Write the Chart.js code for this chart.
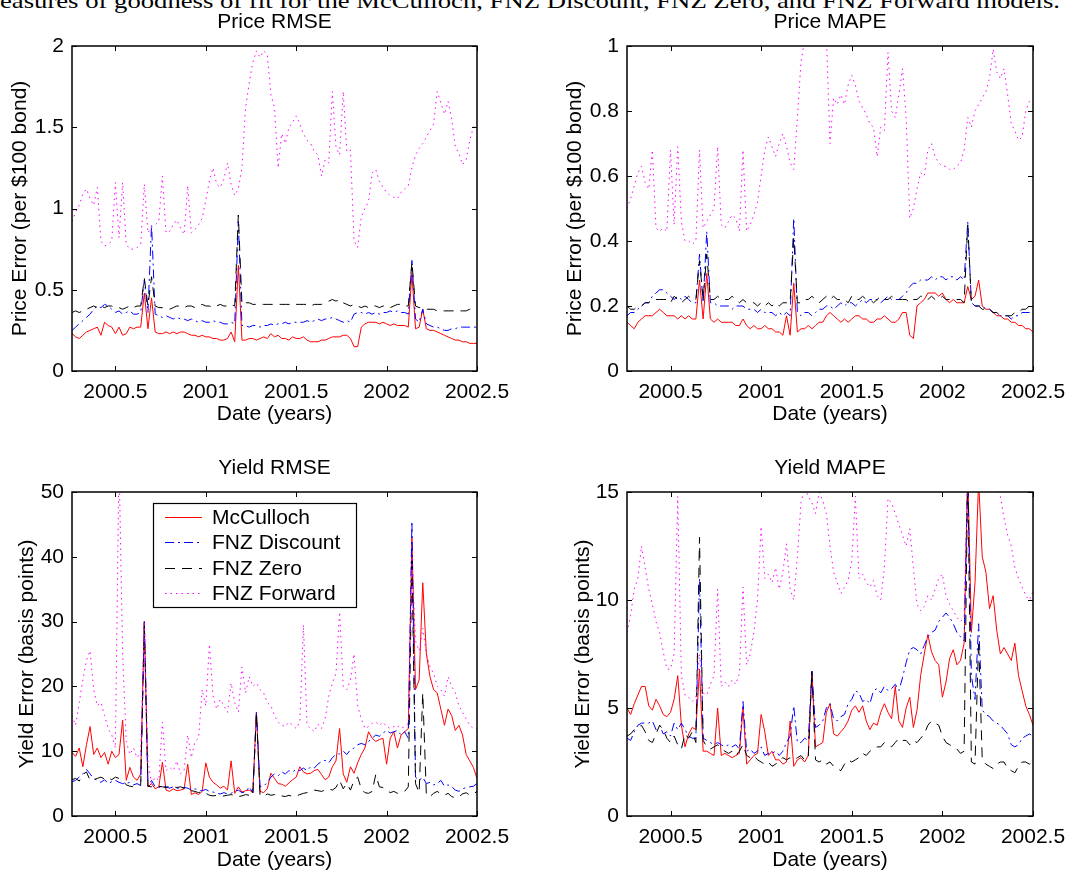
<!DOCTYPE html>
<html>
<head>
<meta charset="utf-8">
<script src="https://cdn.jsdelivr.net/npm/chart.js@4.4.1/dist/chart.umd.min.js"></script>
<style>
  html, body { margin: 0; padding: 0; background: #fff; overflow: hidden; }
  body { width: 1066px; height: 873px; position: relative; }
  .caption { position: absolute; left: 0; top: -10px; font: 22px 'Liberation Serif', serif; line-height: 22px; white-space: nowrap; transform-origin: 0 0; color: #000; }
  .panel { position: absolute; }
</style>
</head>
<body>
<div class="caption" id="caption">easures of goodness of fit for the McCulloch, FNZ Discount, FNZ Zero, and FNZ Forward models.</div>
<div class="panel" style="left:0;top:0"><canvas id="priceRmse" width="533" height="436"></canvas></div>
<div class="panel" style="left:533px;top:0"><canvas id="priceMape" width="560" height="436"></canvas></div>
<div class="panel" style="left:0;top:436px"><canvas id="yieldRmse" width="533" height="437"></canvas></div>
<div class="panel" style="left:533px;top:436px"><canvas id="yieldMape" width="560" height="437"></canvas></div>
<script>
// dates (years), roughly weekly
const dates = [
  2000.26, 2000.28, 2000.30, 2000.32, 2000.34, 2000.36, 2000.38, 2000.40, 2000.42, 2000.44,
  2000.46, 2000.48, 2000.50, 2000.52, 2000.54, 2000.56, 2000.58, 2000.60, 2000.62, 2000.64,
  2000.66, 2000.68, 2000.70, 2000.72, 2000.74, 2000.76, 2000.78, 2000.80, 2000.82, 2000.84,
  2000.86, 2000.88, 2000.90, 2000.92, 2000.94, 2000.96, 2000.98, 2001.00, 2001.02, 2001.04,
  2001.06, 2001.08, 2001.10, 2001.12, 2001.14, 2001.16, 2001.18, 2001.20, 2001.22, 2001.24,
  2001.26, 2001.28, 2001.30, 2001.32, 2001.34, 2001.36, 2001.38, 2001.40, 2001.42, 2001.44,
  2001.46, 2001.48, 2001.50, 2001.52, 2001.54, 2001.56, 2001.58, 2001.60, 2001.62, 2001.64,
  2001.66, 2001.68, 2001.70, 2001.72, 2001.74, 2001.76, 2001.78, 2001.80, 2001.82, 2001.84,
  2001.86, 2001.88, 2001.90, 2001.92, 2001.94, 2001.96, 2001.98, 2002.00, 2002.02, 2002.04,
  2002.06, 2002.08, 2002.10, 2002.12, 2002.14, 2002.16, 2002.18, 2002.20, 2002.22, 2002.24,
  2002.26, 2002.28, 2002.30, 2002.32, 2002.34, 2002.36, 2002.38, 2002.40, 2002.42, 2002.44,
  2002.46, 2002.48, 2002.50
];
const xTicks = [2000.5, 2001, 2001.5, 2002, 2002.5];

// Price RMSE ($ per $100 bond)
const priceRmseMcCulloch = [
  0.23, 0.21, 0.20, 0.22, 0.24, 0.25, 0.26, 0.27, 0.22, 0.30,
  0.28, 0.27, 0.23, 0.27, 0.22, 0.23, 0.27, 0.26, 0.27, 0.27,
  0.48, 0.26, 0.45, 0.24, 0.23, 0.23, 0.24, 0.23, 0.24, 0.23,
  0.24, 0.24, 0.23, 0.22, 0.22, 0.21, 0.22, 0.21, 0.21, 0.20,
  0.20, 0.19, 0.19, 0.20, 0.24, 0.18, 0.65, 0.19, 0.19, 0.20,
  0.20, 0.19, 0.20, 0.21, 0.20, 0.23, 0.21, 0.22, 0.20, 0.20,
  0.19, 0.21, 0.20, 0.20, 0.21, 0.19, 0.18, 0.18, 0.18, 0.19,
  0.19, 0.20, 0.21, 0.21, 0.21, 0.22, 0.22, 0.20, 0.15, 0.15,
  0.27, 0.29, 0.30, 0.30, 0.30, 0.29, 0.30, 0.29, 0.28, 0.29,
  0.28, 0.28, 0.28, 0.27, 0.60, 0.26, 0.27, 0.38, 0.26, 0.25,
  0.25, 0.24, 0.23, 0.22, 0.21, 0.20, 0.19, 0.19, 0.18, 0.18,
  0.17, 0.17, 0.17
];
const priceRmseDiscount = [
  0.25, 0.27, 0.29, 0.31, 0.33, 0.35, 0.38, 0.40, 0.39, 0.41,
  0.40, 0.38, 0.36, 0.37, 0.35, 0.36, 0.37, 0.35, 0.35, 0.36,
  0.56, 0.36, 0.90, 0.35, 0.34, 0.33, 0.34, 0.33, 0.32, 0.33,
  0.32, 0.32, 0.31, 0.32, 0.31, 0.30, 0.31, 0.30, 0.30, 0.31,
  0.30, 0.30, 0.29, 0.29, 0.30, 0.29, 0.92, 0.28, 0.28, 0.27,
  0.28, 0.28, 0.27, 0.28, 0.28, 0.29, 0.28, 0.29, 0.29, 0.30,
  0.29, 0.30, 0.30, 0.30, 0.30, 0.31, 0.30, 0.31, 0.32, 0.31,
  0.32, 0.32, 0.33, 0.32, 0.31, 0.30, 0.31, 0.30, 0.35, 0.36,
  0.36, 0.35, 0.36, 0.35, 0.36, 0.35, 0.36, 0.36, 0.37, 0.36,
  0.37, 0.36, 0.36, 0.35, 0.68, 0.32, 0.30, 0.38, 0.29, 0.28,
  0.27, 0.27, 0.26, 0.25, 0.25, 0.26, 0.26, 0.27, 0.27, 0.27,
  0.27, 0.27, 0.27
];
const priceRmseZero = [
  0.36, 0.37, 0.36, 0.37, 0.38, 0.39, 0.40, 0.39, 0.40, 0.39,
  0.40, 0.40, 0.39, 0.39, 0.38, 0.39, 0.40, 0.39, 0.40, 0.40,
  0.57, 0.40, 0.58, 0.40, 0.39, 0.39, 0.38, 0.38, 0.39, 0.40,
  0.40, 0.39, 0.40, 0.40, 0.39, 0.40, 0.41, 0.40, 0.40, 0.39,
  0.40, 0.41, 0.40, 0.40, 0.41, 0.40, 0.96, 0.41, 0.42, 0.42,
  0.41, 0.41, 0.41, 0.41, 0.41, 0.41, 0.41, 0.41, 0.41, 0.41,
  0.41, 0.40, 0.41, 0.41, 0.41, 0.41, 0.40, 0.41, 0.41, 0.41,
  0.42, 0.43, 0.44, 0.43, 0.44, 0.42, 0.41, 0.40, 0.41, 0.40,
  0.39, 0.40, 0.39, 0.40, 0.40, 0.39, 0.40, 0.40, 0.39, 0.40,
  0.41, 0.41, 0.40, 0.40, 0.67, 0.40, 0.39, 0.39, 0.38, 0.38,
  0.38, 0.37, 0.37, 0.37, 0.37, 0.37, 0.37, 0.37, 0.37, 0.37,
  0.38, 0.38, 0.39
];
const priceRmseForward = [
  0.92, 0.98, 1.02, 1.09, 1.12, 1.06, 1.02, 1.13, 0.80, 0.77,
  0.78, 0.80, 1.16, 0.82, 1.16, 0.78, 0.75, 0.75, 0.76, 0.78,
  1.15, 0.85, 0.89, 0.90, 0.92, 1.20, 0.85, 0.86, 0.90, 0.93,
  0.88, 0.84, 1.14, 0.85, 0.87, 0.90, 0.94, 1.05, 1.17, 1.25,
  1.15, 1.13, 1.18, 1.28, 1.15, 1.08, 1.12, 1.25, 1.62, 1.77,
  1.90, 1.97, 1.93, 1.97, 1.95, 1.70, 1.62, 1.25, 1.46, 1.40,
  1.50, 1.53, 1.57, 1.52, 1.46, 1.42, 1.40, 1.35, 1.33, 1.20,
  1.30, 1.28, 1.72, 1.38, 1.33, 1.72, 1.35, 1.36, 0.80, 0.76,
  0.95, 1.00, 1.04, 1.22, 1.24, 1.17, 1.13, 1.10, 1.08, 1.07,
  1.06, 1.10, 1.12, 1.14, 1.25, 1.33, 1.37, 1.40, 1.44, 1.48,
  1.52, 1.72, 1.65, 1.58, 1.66, 1.55, 1.38, 1.34, 1.27, 1.30,
  1.42, 1.50, 1.53
];

// Price MAPE
const priceMapeMcCulloch = [
  0.15, 0.14, 0.13, 0.15, 0.16, 0.17, 0.17, 0.17, 0.18, 0.19,
  0.18, 0.17, 0.17, 0.17, 0.16, 0.17, 0.16, 0.17, 0.16, 0.16,
  0.28, 0.16, 0.30, 0.16, 0.15, 0.16, 0.15, 0.15, 0.15, 0.15,
  0.14, 0.14, 0.16, 0.14, 0.13, 0.14, 0.13, 0.13, 0.14, 0.13,
  0.13, 0.12, 0.12, 0.11, 0.17, 0.11, 0.27, 0.12, 0.13, 0.13,
  0.14, 0.13, 0.14, 0.15, 0.15, 0.17, 0.18, 0.17, 0.16, 0.15,
  0.16, 0.15, 0.16, 0.17, 0.17, 0.16, 0.16, 0.15, 0.15, 0.16,
  0.16, 0.17, 0.16, 0.15, 0.15, 0.16, 0.18, 0.18, 0.11, 0.10,
  0.20, 0.21, 0.22, 0.24, 0.24, 0.24, 0.23, 0.24, 0.22, 0.21,
  0.22, 0.21, 0.21, 0.21, 0.26, 0.22, 0.23, 0.28, 0.20, 0.19,
  0.19, 0.18, 0.17, 0.17, 0.16, 0.16, 0.15, 0.15, 0.14, 0.14,
  0.13, 0.13, 0.12
];
const priceMapeDiscount = [
  0.17, 0.18, 0.18, 0.19, 0.20, 0.21, 0.21, 0.23, 0.24, 0.25,
  0.25, 0.24, 0.23, 0.22, 0.23, 0.22, 0.23, 0.22, 0.21, 0.21,
  0.36, 0.21, 0.43, 0.21, 0.21, 0.20, 0.20, 0.20, 0.20, 0.19,
  0.20, 0.20, 0.20, 0.19, 0.19, 0.19, 0.18, 0.19, 0.18, 0.18,
  0.18, 0.17, 0.18, 0.17, 0.18, 0.17, 0.47, 0.18, 0.17, 0.18,
  0.18, 0.17, 0.18, 0.19, 0.19, 0.20, 0.20, 0.19, 0.20, 0.21,
  0.20, 0.21, 0.21, 0.20, 0.21, 0.22, 0.21, 0.22, 0.22, 0.22,
  0.21, 0.22, 0.23, 0.22, 0.22, 0.22, 0.23, 0.24, 0.26, 0.27,
  0.27, 0.28, 0.28, 0.28, 0.29, 0.28, 0.29, 0.29, 0.28, 0.29,
  0.29, 0.28, 0.29, 0.28, 0.46, 0.21, 0.20, 0.20, 0.20, 0.19,
  0.19, 0.18, 0.18, 0.17, 0.17, 0.17, 0.16, 0.17, 0.17, 0.18,
  0.18, 0.18, 0.18
];
const priceMapeZero = [
  0.20, 0.19, 0.19, 0.20, 0.20, 0.21, 0.21, 0.22, 0.22, 0.22,
  0.22, 0.22, 0.21, 0.23, 0.22, 0.21, 0.22, 0.23, 0.22, 0.22,
  0.34, 0.22, 0.36, 0.22, 0.22, 0.23, 0.22, 0.22, 0.22, 0.23,
  0.22, 0.21, 0.22, 0.21, 0.21, 0.21, 0.20, 0.21, 0.20, 0.21,
  0.20, 0.21, 0.20, 0.21, 0.21, 0.21, 0.41, 0.21, 0.21, 0.22,
  0.22, 0.23, 0.22, 0.21, 0.22, 0.23, 0.22, 0.23, 0.22, 0.22,
  0.22, 0.21, 0.23, 0.22, 0.22, 0.23, 0.22, 0.22, 0.21, 0.22,
  0.23, 0.22, 0.22, 0.23, 0.22, 0.22, 0.22, 0.22, 0.21, 0.22,
  0.22, 0.23, 0.23, 0.22, 0.23, 0.22, 0.22, 0.23, 0.22, 0.22,
  0.22, 0.22, 0.22, 0.21, 0.45, 0.21, 0.20, 0.20, 0.19, 0.19,
  0.19, 0.18, 0.18, 0.17, 0.17, 0.17, 0.17, 0.18, 0.18, 0.19,
  0.19, 0.20, 0.20
];
const priceMapeForward = [
  0.50, 0.53, 0.57, 0.61, 0.63, 0.58, 0.56, 0.68, 0.44, 0.43,
  0.44, 0.43, 0.68, 0.45, 0.69, 0.46, 0.40, 0.40, 0.39, 0.40,
  0.68, 0.44, 0.46, 0.48, 0.50, 0.69, 0.45, 0.44, 0.46, 0.48,
  0.47, 0.43, 0.68, 0.43, 0.45, 0.48, 0.52, 0.60, 0.68, 0.72,
  0.69, 0.66, 0.70, 0.73, 0.69, 0.64, 0.62, 0.78, 0.95, 1.02,
  1.04, 1.03, 1.05, 1.02, 1.04, 1.03, 0.70, 0.84, 0.82, 0.85,
  0.82, 0.88, 0.91, 0.88, 0.83, 0.81, 0.79, 0.76, 0.75, 0.66,
  0.75, 0.74, 0.98, 0.80, 0.78, 0.85, 0.93, 0.78, 0.47, 0.50,
  0.56, 0.61, 0.60, 0.68, 0.70, 0.66, 0.64, 0.63, 0.63, 0.62,
  0.62, 0.63, 0.64, 0.68, 0.78, 0.75, 0.80, 0.82, 0.84, 0.86,
  0.90, 0.99, 0.92, 0.90, 0.93, 0.85, 0.76, 0.74, 0.71, 0.72,
  0.80, 0.83, 0.82
];

// Yield RMSE (basis points)
const yieldRmseMcCulloch = [
  9.8, 9.2, 10.5, 7.6, 11.0, 13.8, 9.5, 10.5, 9.0, 9.8,
  8.0, 10.0, 9.0, 9.5, 14.8, 5.5, 7.5, 6.0, 5.5, 6.5,
  30.0, 4.5, 5.0, 4.2, 4.5, 8.3, 4.0, 3.8, 4.2, 3.9,
  4.0, 4.2, 8.0, 3.3, 3.6, 3.3, 3.8, 8.2, 6.0, 5.2,
  4.8, 4.3, 4.6, 4.0, 8.5, 3.5, 4.5, 3.7, 3.9, 4.0,
  3.6, 16.0, 3.8, 3.6, 4.2, 6.6, 5.8, 5.0, 4.9, 4.6,
  5.1, 5.6, 6.0, 7.6, 6.8, 6.5, 6.6, 7.0, 7.2, 6.4,
  5.6, 6.0, 7.6, 8.5, 13.5, 6.5, 5.2, 7.6, 6.6, 8.2,
  9.5, 10.5, 13.0, 12.0, 11.5, 11.8, 12.0, 8.0, 12.0, 13.0,
  10.5, 12.5, 13.0, 13.5, 43.0, 19.5, 21.0, 36.0, 25.0, 21.5,
  19.5, 19.0, 16.5, 14.0, 16.5, 15.5, 13.2, 14.0, 12.5, 9.5,
  8.5, 7.5, 5.8
];
const yieldRmseDiscount = [
  5.3, 5.5, 6.0, 6.5, 7.2, 6.5, 5.8, 5.5, 5.2, 5.6,
  5.0, 5.3, 5.5, 5.2, 5.0, 5.0, 5.2, 4.8, 5.0, 4.7,
  30.0, 4.6, 5.5, 4.5, 4.4, 4.6, 4.5, 4.3, 4.5, 4.3,
  4.2, 4.4, 4.3, 4.0, 4.2, 4.0, 3.9, 4.1, 3.8, 3.7,
  3.5, 3.4, 3.6, 3.4, 3.5, 3.8, 4.0, 3.6, 3.7, 4.5,
  3.6, 16.0, 4.5, 4.6, 5.2, 6.0, 6.5, 6.2, 6.8, 6.5,
  7.0, 6.8, 7.2, 7.0, 7.4, 7.0, 7.6, 7.4, 8.0, 8.4,
  8.6, 8.2, 9.0, 9.5, 9.6, 10.0, 9.5, 10.2, 10.5, 11.0,
  11.2, 11.0, 11.5, 12.0, 12.5, 12.3, 12.8, 13.2, 12.8, 13.0,
  13.2, 12.5, 13.0, 12.0, 45.5, 6.0, 5.5, 6.0, 5.0, 5.2,
  4.8, 5.0, 5.5, 4.6, 4.8, 4.5, 4.0, 3.8, 4.2, 4.4,
  4.5, 4.6, 5.0
];
const yieldRmseZero = [
  5.6, 5.8, 5.4, 6.4, 6.8, 5.5, 5.6, 5.8, 6.0, 5.7,
  5.9, 5.6, 6.0, 5.8, 5.5, 4.8, 4.6, 4.5, 4.6, 4.8,
  30.0, 4.6, 4.5, 4.4, 4.6, 4.5, 4.4, 4.6, 4.5, 4.4,
  4.5, 4.3, 4.4, 3.9, 3.8, 3.6, 3.8, 3.5, 3.2, 3.1,
  3.2, 3.0, 3.1, 3.2, 3.3, 3.2, 3.0, 3.1, 3.3, 3.2,
  3.1, 16.0, 3.2, 3.0, 3.4, 3.2, 3.3, 3.0, 3.1, 3.0,
  3.2, 3.0, 3.1, 3.3, 3.5, 3.6, 3.8, 4.0, 3.9, 3.8,
  4.0, 4.2, 4.0, 4.4, 5.5, 4.2, 5.0, 4.0, 5.5, 6.0,
  4.2, 3.6, 3.5, 3.8, 6.4, 4.5, 4.4, 4.0, 3.6, 3.8,
  3.5, 3.6, 3.8, 4.5, 40.0, 5.0, 3.6, 19.0, 3.2, 3.0,
  3.5, 3.8, 3.4, 3.2, 3.5, 3.0, 2.8, 3.0, 3.4, 3.6,
  3.2, 3.4, 3.8
];
const yieldRmseForward = [
  15.5, 14.0, 17.5, 21.0, 24.0, 25.5, 19.5, 17.0, 17.5, 15.5,
  13.5, 12.5, 10.5, 55.0, 25.0, 11.5, 9.5, 10.5, 9.0, 10.0,
  30.0, 8.5, 5.0, 6.0, 5.5, 14.5, 7.0, 7.5, 7.0, 8.5,
  6.5, 7.0, 12.5, 9.0, 11.5, 12.0, 19.5, 17.0, 26.5, 18.5,
  16.5, 18.0, 17.0, 16.0, 20.5, 17.5, 16.0, 23.0, 19.0, 21.5,
  20.0, 20.5, 19.5, 19.0, 17.5, 17.0, 15.5, 14.5, 14.0, 13.8,
  14.5, 14.0, 13.5, 14.5, 29.5, 14.0, 13.5, 13.0, 14.2, 13.5,
  15.0, 18.5, 20.5, 22.0, 31.5, 20.0, 19.5, 21.0, 25.0, 17.0,
  15.0, 13.5, 13.8, 14.3, 14.5, 14.0, 14.5, 13.8, 13.5, 13.8,
  14.0, 13.5, 13.8, 14.3, 40.0, 27.0, 25.5, 29.0, 25.0, 23.0,
  22.0, 20.0, 19.5, 18.5, 21.5, 20.0, 19.0, 17.0, 16.0, 15.0,
  14.0, 13.5, 13.5
];

// Yield MAPE (basis points)
const yieldMapeMcCulloch = [
  5.0, 4.7, 5.2, 5.6, 6.0, 6.0, 5.1, 4.9, 5.4, 5.1,
  4.7, 4.6, 4.8, 5.4, 6.5, 4.2, 3.2, 3.8, 4.1, 4.0,
  6.8, 3.0, 3.0, 2.9, 2.8, 5.0, 2.8, 2.9, 2.8, 2.7,
  2.8, 2.9, 5.0, 2.4, 2.6, 2.8, 2.9, 4.7, 3.9, 2.8,
  3.0, 2.6, 2.6, 2.4, 2.5, 4.4, 2.3, 2.6, 2.7, 2.5,
  2.8, 6.7, 3.2, 3.3, 3.4, 4.8, 5.2, 3.8, 3.7, 3.9,
  4.1, 4.4, 4.9, 5.1, 4.8, 5.1, 4.4, 4.0, 4.3, 4.2,
  4.8, 5.2, 4.8, 4.5, 6.0, 4.4, 4.1, 5.0, 5.5, 4.1,
  4.9, 6.5, 7.5, 8.4, 7.6, 7.2, 7.0, 5.5, 6.2, 7.3,
  7.7, 7.0, 7.2, 8.0, 16.0, 8.5, 10.8, 15.5, 12.0, 11.3,
  9.6, 10.2, 8.6, 7.5, 7.8, 7.5, 7.2, 8.0, 6.5, 5.8,
  5.1, 4.7, 4.2
];
const yieldMapeDiscount = [
  3.6, 3.5, 3.9, 4.2, 4.3, 4.3, 4.3, 4.4, 4.0, 4.2,
  3.8, 3.9, 3.7, 4.3, 4.0, 4.3, 4.0, 3.7, 3.6, 3.6,
  11.0, 3.6, 3.5, 3.4, 3.3, 3.4, 3.3, 3.2, 3.3, 3.2,
  3.3, 3.1, 5.3, 3.0, 3.1, 2.9, 3.0, 3.2, 2.8, 2.9,
  2.9, 3.0, 2.8, 3.0, 3.4, 3.7, 5.1, 3.4, 3.4, 3.6,
  3.5, 6.7, 4.1, 4.2, 4.4, 5.0, 5.2, 4.5, 4.4, 4.6,
  4.7, 5.2, 5.4, 5.8, 5.7, 5.3, 5.4, 5.2, 5.8, 5.9,
  5.7, 6.0, 5.8, 5.9, 6.1, 5.8, 6.4, 7.1, 7.7, 7.8,
  7.7, 7.5, 7.9, 8.3, 8.5, 8.6, 9.0, 9.2, 9.4, 9.2,
  8.9, 8.5, 8.3, 8.1, 16.0, 6.5, 5.4, 8.9, 4.9, 4.7,
  4.6, 4.4, 4.3, 4.2, 4.0, 3.8, 3.3, 3.2, 3.3, 3.6,
  3.7, 3.8, 3.7
];
const yieldMapeZero = [
  3.7, 3.8, 4.0, 4.1, 4.2, 3.9, 3.5, 3.4, 3.8, 4.2,
  4.0, 3.6, 3.4, 3.7, 3.3, 3.1, 3.8, 3.6, 3.9, 3.4,
  12.9, 3.5, 3.2, 3.1, 3.2, 3.3, 3.1, 3.0, 2.9, 3.0,
  2.8, 3.0, 3.3, 2.8, 2.7, 2.8, 2.6, 2.5, 2.4, 2.5,
  2.3, 2.4, 2.6, 2.7, 2.6, 2.7, 2.6, 2.7, 2.8, 2.6,
  2.7, 6.7, 2.6, 2.5, 2.6, 2.4, 2.5, 2.3, 2.2, 2.1,
  2.4, 2.6, 2.5, 2.6, 2.7, 2.9, 2.8, 3.0, 3.1, 3.2,
  3.2, 3.4, 3.3, 3.2, 3.4, 3.6, 3.5, 3.5, 3.3, 3.5,
  3.4, 3.6, 3.8, 4.2, 4.4, 4.3, 4.2, 3.7, 3.4, 3.3,
  3.2, 3.1, 2.9, 3.0, 16.0, 2.5, 2.4, 8.1, 2.6, 2.4,
  2.3, 2.2, 2.4, 2.5, 2.5, 2.2, 2.1, 2.0, 2.3, 2.5,
  2.5, 2.4, 2.5
];
const yieldMapeForward = [
  8.5, 9.3, 10.5, 11.0, 12.5, 11.5, 10.5, 9.8, 9.0, 8.5,
  7.6, 6.8, 6.8, 7.5, 14.8, 6.5, 5.6, 5.5, 5.3, 5.5,
  7.5, 5.7, 5.6, 6.1, 6.5, 10.5, 6.0, 6.2, 6.0, 6.3,
  6.1, 6.6, 10.6, 7.0, 7.5, 8.5, 10.0, 13.4, 11.0, 11.2,
  10.8, 11.5, 10.5, 11.3, 12.6, 10.5, 10.0, 12.0, 14.5, 15.2,
  14.8, 14.5, 14.0, 15.0, 14.6, 14.0, 12.5, 11.3, 10.8, 10.3,
  10.6, 10.9, 11.8, 14.8, 11.0, 11.2, 10.8, 10.6, 10.9, 10.2,
  10.0, 11.5, 14.7, 14.5, 14.0, 13.5, 13.0, 12.5, 13.3, 11.5,
  9.8, 9.5, 9.7, 10.2, 10.0, 10.5, 11.0, 11.2, 10.2, 9.8,
  9.5, 9.2, 9.0, 9.2, 16.0, 16.5, 16.0, 17.0, 16.5, 16.0,
  16.5, 15.5, 15.2, 14.8, 13.8, 13.0, 12.5, 11.5, 11.0, 10.6,
  10.2, 10.0, 10.4
];

const seriesNames = ['McCulloch', 'FNZ Discount', 'FNZ Zero', 'FNZ Forward'];
const seriesColors = ['#ff0000', '#0000ff', '#000000', '#ff00ff'];
const seriesDashes = [[], [9, 4, 2, 4], [10, 7], [1.5, 4]];

const FONT = "'Liberation Sans', Arial, Helvetica, sans-serif";
const font21 = { family: FONT, size: 21 };

// box around the plot area, inward tick marks, panel title and optional inset legend
const boxPlugin = {
  id: 'boxPlugin',
  afterDatasetsDraw(chart, args, opts) {
    const { ctx, chartArea: a, scales: { x, y } } = chart;
    ctx.save();
    ctx.strokeStyle = '#000';
    ctx.lineWidth = 1;
    ctx.setLineDash([]);
    ctx.beginPath();
    x.ticks.forEach(t => {
      const px = Math.round(x.getPixelForValue(t.value)) + 0.5;
      ctx.moveTo(px, a.bottom); ctx.lineTo(px, a.bottom - 5);
      ctx.moveTo(px, a.top); ctx.lineTo(px, a.top + 5);
    });
    y.ticks.forEach(t => {
      const py = Math.round(y.getPixelForValue(t.value)) + 0.5;
      ctx.moveTo(a.left, py); ctx.lineTo(a.left + 5, py);
      ctx.moveTo(a.right, py); ctx.lineTo(a.right - 5, py);
    });
    ctx.stroke();
    ctx.lineWidth = 1.5;
    ctx.strokeRect(Math.round(a.left), Math.round(a.top), Math.round(a.right - a.left), Math.round(a.bottom - a.top));

    // title centred over the plot box
    ctx.fillStyle = '#000';
    ctx.font = '21px ' + FONT;
    ctx.textAlign = 'center';
    ctx.textBaseline = 'middle';
    ctx.fillText(opts.title, (a.left + a.right) / 2, a.top - 24);

    if (opts.legend) {
      const L = opts.legend;
      const bx = a.left + L.dx, by = a.top + L.dy;
      ctx.fillStyle = '#fff';
      ctx.fillRect(bx, by, L.w, L.h);
      ctx.lineWidth = 1.2;
      ctx.strokeRect(bx + 0.5, by + 0.5, L.w, L.h);
      ctx.textAlign = 'left';
      chart.data.datasets.forEach((ds, i) => {
        const ry = Math.round(by + 14 + i * 25.3) + 0.5;
        ctx.strokeStyle = ds.borderColor;
        ctx.lineWidth = 1;
        ctx.setLineDash(ds.borderDash);
        ctx.beginPath();
        ctx.moveTo(bx + 12, ry); ctx.lineTo(bx + 49, ry);
        ctx.stroke();
        ctx.setLineDash([]);
        ctx.fillStyle = '#000';
        ctx.fillText(ds.label, bx + 59, ry + 1);
      });
    }
    ctx.restore();
  }
};

function makeChart(id, cfg) {
  const datasets = cfg.series.map((vals, i) => ({
    label: seriesNames[i],
    data: dates.map((d, k) => ({ x: d, y: vals[k] })),
    borderColor: seriesColors[i],
    borderDash: seriesDashes[i],
    borderWidth: 1,
    pointRadius: 0,
    tension: 0,
    fill: false,
    clip: 0,
    order: 3 - i
  }));
  return new Chart(document.getElementById(id), {
    type: 'line',
    data: { datasets },
    options: {
      responsive: false,
      animation: false,
      events: [],
      layout: { padding: { left: 0, right: cfg.padRight, top: cfg.padTop, bottom: 0 } },
      scales: {
        x: {
          type: 'linear',
          min: 2000.26,
          max: 2002.5,
          afterBuildTicks: s => { s.ticks = xTicks.map(v => ({ value: v })); },
          afterFit: s => { s.height = cfg.xHeight; },
          grid: { display: false, drawTicks: false },
          border: { display: false },
          ticks: { font: font21, color: '#000', padding: 9, maxRotation: 0, autoSkip: false, callback: v => String(v) },
          title: { display: true, text: 'Date (years)', font: font21, color: '#000', padding: { top: 0, bottom: cfg.xTitlePad } }
        },
        y: {
          min: cfg.yMin,
          max: cfg.yMax,
          afterBuildTicks: s => { s.ticks = cfg.yTicks.map(v => ({ value: v })); },
          afterFit: s => { s.width = cfg.yWidth; },
          grid: { display: false, drawTicks: false },
          border: { display: false },
          ticks: { font: font21, color: '#000', padding: 8, callback: v => String(v) },
          title: { display: true, text: cfg.yTitle, font: font21, color: '#000', padding: { top: cfg.yTitlePad, bottom: 0 } }
        }
      },
      plugins: {
        legend: { display: false },
        tooltip: { enabled: false },
        title: { display: false },
        boxPlugin: { title: cfg.title, legend: cfg.legend || null }
      }
    },
    plugins: [boxPlugin]
  });
}

makeChart('priceRmse', {
  title: 'Price RMSE', yTitle: 'Price Error (per $100 bond)',
  series: [priceRmseMcCulloch, priceRmseDiscount, priceRmseZero, priceRmseForward],
  yMin: 0, yMax: 2, yTicks: [0, 0.5, 1, 1.5, 2],
  yWidth: 72, yTitlePad: 8, padRight: 56, padTop: 46, xHeight: 65, xTitlePad: 9
});
makeChart('priceMape', {
  title: 'Price MAPE', yTitle: 'Price Error (per $100 bond)',
  series: [priceMapeMcCulloch, priceMapeDiscount, priceMapeZero, priceMapeForward],
  yMin: 0, yMax: 1, yTicks: [0, 0.2, 0.4, 0.6, 0.8, 1],
  yWidth: 94, yTitlePad: 30, padRight: 60, padTop: 46, xHeight: 65, xTitlePad: 9
});
makeChart('yieldRmse', {
  title: 'Yield RMSE', yTitle: 'Yield Error (basis points)',
  series: [yieldRmseMcCulloch, yieldRmseDiscount, yieldRmseZero, yieldRmseForward],
  yMin: 0, yMax: 50, yTicks: [0, 10, 20, 30, 40, 50],
  yWidth: 72, yTitlePad: 15, padRight: 56, padTop: 56, xHeight: 57, xTitlePad: 0,
  legend: { dx: 81, dy: 11, w: 203, h: 104 }
});
makeChart('yieldMape', {
  title: 'Yield MAPE', yTitle: 'Yield Error (basis points)',
  series: [yieldMapeMcCulloch, yieldMapeDiscount, yieldMapeZero, yieldMapeForward],
  yMin: 0, yMax: 15, yTicks: [0, 5, 10, 15],
  yWidth: 94, yTitlePad: 38, padRight: 60, padTop: 56, xHeight: 57, xTitlePad: 0
});

// stretch the cropped caption line across the page width
const cap = document.getElementById('caption');
const capW = cap.getBoundingClientRect().width;
cap.style.transform = 'scaleX(' + (1060 / capW).toFixed(4) + ')';
</script>
</body>
</html>
